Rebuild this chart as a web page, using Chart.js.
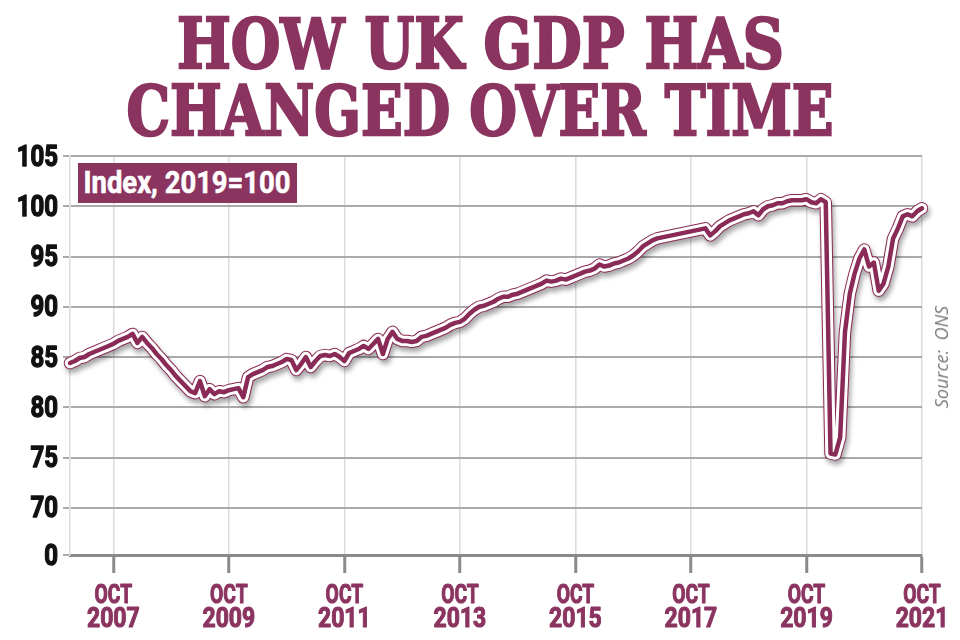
<!DOCTYPE html>
<html>
<head>
<meta charset="utf-8">
<script src="https://cdn.jsdelivr.net/npm/chart.js@4.4.1/dist/chart.umd.min.js"></script>
<style>
  html, body { margin: 0; padding: 0; background: #fff; }
  #wrap { position: relative; width: 960px; height: 640px; overflow: hidden; }
  #chart { position: absolute; left: 0; top: 0; }
  .title {
    position: absolute; left: 0; width: 960px; text-align: center;
    font-family: 'DejaVu Serif', serif; font-weight: bold; font-size: 70px;
    line-height: 1; color: #8b3460; white-space: nowrap;
    -webkit-text-stroke: 2.5px #8b3460;
  }
  .title span, #badge span { display: inline-block; transform-origin: 50% 50%; flex-shrink: 0; }
  #badge {
    position: absolute; left: 78px; top: 163px; width: 219px; height: 40px;
    background: #8b3460; color: #fff; line-height: 40px;
    display: flex; justify-content: center; overflow: hidden;
    font-family: Roboto, sans-serif; font-weight: bold; font-size: 31px; white-space: nowrap;
    -webkit-text-stroke: 0.6px #fff;
  }
  #source {
    position: absolute; left: 941px; top: 357px; transform: translate(-50%, -50%) rotate(-90deg);
    font-family: 'Open Sans', sans-serif; font-style: italic; font-size: 18px; color: #7a7a7a;
    white-space: nowrap;
  }
</style>
</head>
<body>
<div id="wrap">
  <canvas id="chart" width="960" height="640"></canvas>
  <div class="title" style="top:9px"><span data-w="607">HOW UK GDP HAS</span></div>
  <div class="title" style="top:76px"><span data-w="707">CHANGED OVER TIME</span></div>
  <div id="badge"><span data-w="207">Index, 2019=100</span></div>
  <div id="source">Source:&nbsp; ONS</div>
</div>
<script>
// Monthly GDP index (2019=100)
const gdp2007 = [84.4, 84.6, 84.9, 85.0, 85.3, 85.5, 85.7, 85.9, 86.1, 86.3, 86.6, 86.8];
const gdp2008 = [87.0, 87.3, 86.4, 87.0, 86.4, 85.9, 85.3, 84.8, 84.2, 83.7, 83.1, 82.6];
const gdp2009 = [82.1, 81.6, 81.4, 82.6, 81.1, 81.8, 81.3, 81.6, 81.5, 81.7, 81.8, 81.9];
const gdp2010 = [81.0, 83.0, 83.3, 83.5, 83.7, 84.0, 84.1, 84.3, 84.5, 84.8, 84.7, 83.7];
const gdp2011 = [84.3, 85.0, 84.0, 84.6, 85.1, 85.2, 85.1, 85.3, 85.0, 84.6, 85.4, 85.6];
const gdp2012 = [85.8, 86.1, 85.8, 86.3, 86.8, 85.3, 86.8, 87.5, 86.8, 86.6, 86.6, 86.5];
const gdp2013 = [86.6, 87.0, 87.1, 87.3, 87.5, 87.7, 87.9, 88.2, 88.4, 88.5, 88.8, 89.3];
const gdp2014 = [89.7, 90.0, 90.1, 90.3, 90.5, 90.8, 91.0, 91.0, 91.2, 91.3, 91.5, 91.7];
const gdp2015 = [91.9, 92.1, 92.3, 92.6, 92.5, 92.6, 92.8, 92.7, 92.9, 93.1, 93.3, 93.5];
const gdp2016 = [93.6, 93.8, 94.2, 94.0, 94.1, 94.3, 94.4, 94.6, 94.8, 95.1, 95.5, 96.0];
const gdp2017 = [96.3, 96.6, 96.8, 96.9, 97.0, 97.1, 97.2, 97.3, 97.4, 97.5, 97.6, 97.7];
const gdp2018 = [97.8, 97.1, 97.5, 98.0, 98.3, 98.6, 98.8, 99.0, 99.2, 99.3, 99.5, 99.1];
const gdp2019 = [99.7, 100.0, 100.1, 100.3, 100.3, 100.5, 100.6, 100.6, 100.6, 100.7, 100.4, 100.3];
const gdp2020 = [100.7, 100.4, 75.4, 75.3, 77.0, 87.5, 91.3, 93.3, 94.8, 95.7, 94.0, 94.4];
const gdp2021 = [91.6, 92.3, 94.0, 96.8, 97.8, 99.0, 99.2, 99.0, 99.5, 99.8];

const years = [2007, 2008, 2009, 2010, 2011, 2012, 2013, 2014, 2015, 2016, 2017, 2018, 2019, 2020, 2021];
const monthNames = ['JAN', 'FEB', 'MAR', 'APR', 'MAY', 'JUN', 'JUL', 'AUG', 'SEP', 'OCT', 'NOV', 'DEC'];
const tickYears = ['2007', '2009', '2011', '2013', '2015', '2017', '2019', '2021'];
const tickMonth = 'OCT';
const yTickValues = [70, 75, 80, 85, 90, 95, 100, 105];
const yBreakValue = 65.3;   // bottom of the broken axis, labelled "0"
const yBreakLabel = '0';

const series = [gdp2007, gdp2008, gdp2009, gdp2010, gdp2011, gdp2012, gdp2013,
  gdp2014, gdp2015, gdp2016, gdp2017, gdp2018, gdp2019, gdp2020, gdp2021];

const labels = [];
const values = [];
series.forEach(function (arr, k) {
  arr.forEach(function (v, m) {
    labels.push(monthNames[m] + ' ' + years[k]);
    values.push(v);
  });
});

const maroon = '#8b3460';
const lineMaroon = '#8a2a56';

function xTickText(value) {
  const parts = labels[value].split(' ');
  return [parts[0], parts[1]];
}
function yTickText(value) {
  return value < yTickValues[0] ? yBreakLabel : String(value);
}

// drop shadow under the outer stroke of the line
const shadowPlugin = {
  id: 'lineShadow',
  beforeDatasetDraw(chart, args) {
    if (args.index !== 2) return;
    const ctx = chart.ctx;
    ctx.save();
    ctx.shadowColor = 'rgba(0,0,0,0.35)';
    ctx.shadowBlur = 5;
    ctx.shadowOffsetX = 2;
    ctx.shadowOffsetY = 4;
  },
  afterDatasetDraw(chart, args) {
    if (args.index !== 2) return;
    chart.ctx.restore();
  }
};

// tick labels in a heavy condensed face (squeezed horizontally, thickened)
function squeezed(ctx, text, x, y, k) {
  ctx.save();
  ctx.translate(x, y);
  ctx.scale(k, 1);
  ctx.fillText(text, 0, 0);
  ctx.strokeText(text, 0, 0);
  ctx.restore();
}
const condensedTicks = {
  id: 'condensedTicks',
  afterDraw(chart) {
    const ctx = chart.ctx;
    const xs = chart.scales.x;
    const ys = chart.scales.y;
    ctx.save();
    ctx.lineJoin = 'round';
    ctx.fillStyle = maroon;
    ctx.strokeStyle = maroon;
    ctx.lineWidth = 1.1;
    ctx.textAlign = 'center';
    ctx.textBaseline = 'alphabetic';
    xs.ticks.forEach(function (t, i) {
      const x = xs.getPixelForTick(i);
      const lines = xTickText(t.value);
      ctx.font = 'bold 26px Roboto';
      squeezed(ctx, lines[0], x, xs.top + 48, 0.74);
      ctx.font = 'bold 28px Roboto';
      squeezed(ctx, lines[1], x, xs.top + 72, 0.82);
    });
    ctx.fillStyle = '#111';
    ctx.strokeStyle = '#111';
    ctx.lineWidth = 1.4;
    ctx.textAlign = 'right';
    ctx.textBaseline = 'middle';
    ctx.font = 'bold 30px Roboto';
    ys.ticks.forEach(function (t, i) {
      squeezed(ctx, yTickText(t.value), ys.right - 12, ys.getPixelForTick(i) + 2, 0.8);
    });
    ctx.restore();
  }
};

function lineSet(color, width) {
  return {
    data: values,
    borderColor: color,
    borderWidth: width,
    pointRadius: 0,
    tension: 0,
    fill: false,
    clip: false,
    borderJoinStyle: 'round',
    borderCapStyle: 'round'
  };
}

new Chart(document.getElementById('chart').getContext('2d'), {
  type: 'line',
  data: {
    labels: labels,
    datasets: [
      lineSet(lineMaroon, 4.5),
      lineSet('#ffffff', 10.5),
      lineSet(lineMaroon, 12.5)
    ]
  },
  plugins: [shadowPlugin, condensedTicks],
  options: {
    responsive: false,
    animation: false,
    layout: { padding: { top: 156, right: 38, left: 0, bottom: 0 } },
    plugins: { legend: { display: false }, tooltip: { enabled: false } },
    scales: {
      x: {
        type: 'category',
        offset: false,
        afterFit: function (s) { s.height = 85; },
        afterBuildTicks: function (s) {
          s.ticks = s.ticks.filter(function (t) {
            const parts = labels[t.value].split(' ');
            return parts[0] === tickMonth && tickYears.indexOf(parts[1]) >= 0;
          });
        },
        ticks: { display: false, autoSkip: false, maxRotation: 0 },
        grid: {
          color: '#dcdcdc',
          lineWidth: 1.5,
          tickColor: '#8a8a8a',
          tickWidth: 3,
          tickLength: 18
        },
        border: { color: '#8a8a8a', width: 3 }
      },
      y: {
        min: yBreakValue,
        max: 105,
        afterFit: function (s) { s.width = 70; },
        afterBuildTicks: function (s) {
          s.ticks = [yBreakValue].concat(yTickValues).map(function (v) { return { value: v }; });
        },
        ticks: { display: false },
        grid: { color: '#aaaaaa', lineWidth: 2, tickLength: 7 },
        border: { color: '#dcdcdc', width: 1.5 }
      }
    }
  }
});

// squeeze the headline and badge text to the width they take in the reference
document.querySelectorAll('span[data-w]').forEach(function (sp) {
  const k = Number(sp.dataset.w) / sp.offsetWidth;
  sp.style.transform = 'scaleX(' + k + ')';
});
</script>
</body>
</html>
